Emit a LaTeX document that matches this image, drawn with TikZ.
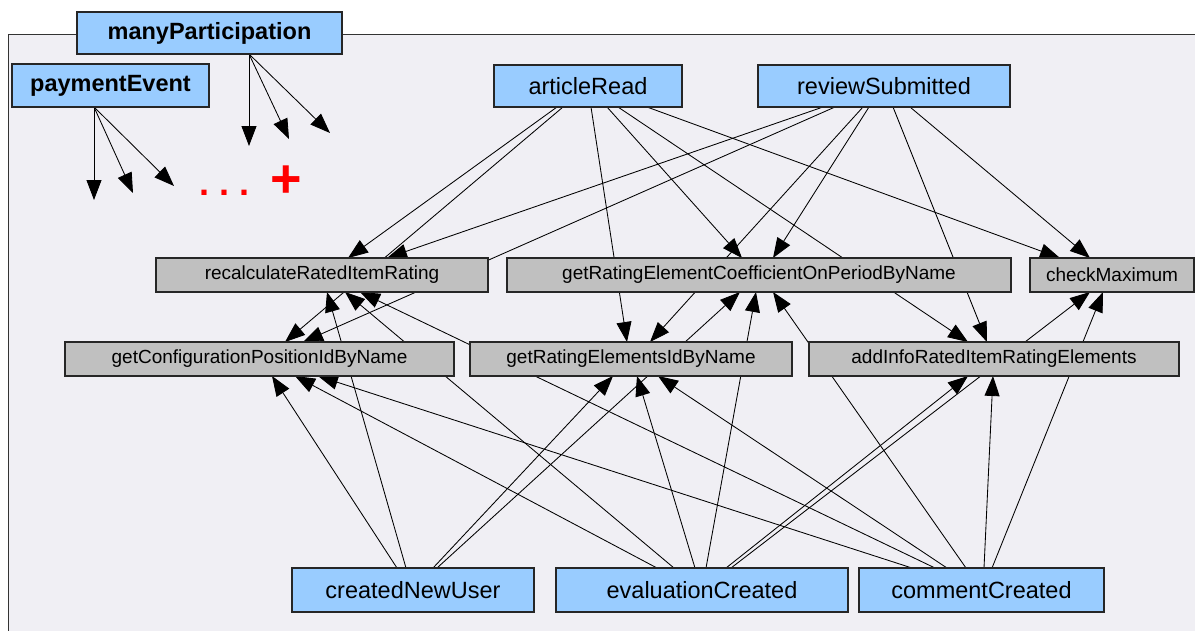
\documentclass[tikz,border=0pt]{standalone}
\usepackage{fontspec}
\setmainfont{Liberation Sans}
\usetikzlibrary{arrows.meta}
\definecolor{evblue}{RGB}{153,204,255}
\definecolor{fngray}{RGB}{192,192,192}
\definecolor{panelbg}{RGB}{240,239,244}
\pgfdeclarelayer{bg}
\pgfdeclarelayer{edges}
\pgfsetlayers{bg,edges,main}
\begin{document}
\begin{tikzpicture}[x=1pt,y=-1pt,
  event/.style={draw=black!85,line width=1.3pt,fill=evblue,inner sep=0pt,outer sep=0pt,
    font=\fontsize{23.5}{26}\selectfont},
  fn/.style={draw=black!85,line width=1.3pt,fill=fngray,inner sep=0pt,outer sep=0pt,
    minimum height=34pt,font=\fontsize{19}{22}\selectfont},
  link/.style={line width=0.85pt,-{Triangle[length=20pt,width=15pt]}},
  redmark/.style={text=red,inner sep=0pt,anchor=base}]
\useasboundingbox (0,0) rectangle (1195,630);

% grey panel that holds the whole call graph
\begin{pgfonlayer}{bg}
  \fill[panelbg] (8,34) rectangle (1215,645);
  \draw[line width=1pt,black!80] (1215,34) -- (8,34) -- (8,645);
\end{pgfonlayer}

% events (blue) and called functions (grey)
\node[event,font=\fontsize{23.5}{26}\selectfont\bfseries,minimum width=265pt,minimum height=42pt] (manyP) at (209.5,33) {manyParticipation};
\node[event,font=\fontsize{23.5}{26}\selectfont\bfseries,minimum width=197pt,minimum height=43pt] (payment) at (110.5,85.5) {paymentEvent};
\node[event,minimum width=188pt,minimum height=42pt] (articleRead) at (588,86) {articleRead};
\node[event,minimum width=252pt,minimum height=42pt] (reviewSubmitted) at (884,86) {reviewSubmitted};

\node[fn,minimum width=332pt] (recalc) at (322,275) {recalculateRatedItemRating};
\node[fn,minimum width=504pt] (coeff) at (759,275) {getRatingElementCoefficientOnPeriodByName};
\node[fn,minimum width=164pt] (checkMax) at (1112,275) {checkMaximum};
\node[fn,minimum width=389pt] (getConfig) at (259.5,359) {getConfigurationPositionIdByName};
\node[fn,minimum width=322pt] (getElems) at (631,359) {getRatingElementsIdByName};
\node[fn,minimum width=370pt] (addInfo) at (994,359) {addInfoRatedItemRatingElements};

\node[event,minimum width=242pt,minimum height=44pt] (createdNewUser) at (413,590) {createdNewUser};
\node[event,minimum width=292pt,minimum height=44pt] (evaluationCreated) at (702,590) {evaluationCreated};
\node[event,minimum width=245pt,minimum height=44pt] (commentCreated) at (981.5,590) {commentCreated};

% open-ended calls of the generic events
\coordinate (p1) at (94,200);
\coordinate (p2) at (133,193);
\coordinate (p3) at (174,186);
\coordinate (m1) at (249,146);
\coordinate (m2) at (289,139);
\coordinate (m3) at (330,133);
\node[redmark,font=\fontsize{36}{36}\selectfont\bfseries] (dots) at (225,195) {.\ .\ .};
\node[redmark,font=\fontsize{54}{54}\selectfont\bfseries] (plus) at (286,197) {+};

\begin{pgfonlayer}{edges}
  \foreach \e in {p1,p2,p3}
    \draw[link] ([xshift=82pt]payment.south west) -- (\e);
  \foreach \e in {m1,m2,m3}
    \draw[link] ([xshift=172pt]manyP.south west) -- (\e);

  % articleRead
  \draw[link] ([xshift=63pt]articleRead.south west) -- ([xshift=192pt]recalc.north west);
  \draw[link] ([xshift=69pt]articleRead.south west) -- ([xshift=220pt]getConfig.north west);
  \draw[link] ([xshift=97pt]articleRead.south west) -- ([xshift=157pt]getElems.north west);
  \draw[link] ([xshift=113pt]articleRead.south west) -- ([xshift=235pt]coeff.north west);
  \draw[link] ([xshift=124pt]articleRead.south west) -- ([xshift=159pt]addInfo.north west);
  \draw[link] ([xshift=153pt]articleRead.south west) -- ([xshift=30pt]checkMax.north west);

  % reviewSubmitted
  \draw[link] ([xshift=65pt]reviewSubmitted.south west) -- ([xshift=231pt]recalc.north west);
  \draw[link] ([xshift=77pt]reviewSubmitted.south west) -- ([xshift=238pt]getConfig.north west);
  \draw[link] ([xshift=105pt]reviewSubmitted.south west) -- ([xshift=180pt]getElems.north west);
  \draw[link] ([xshift=111pt]reviewSubmitted.south west) -- ([xshift=266pt]coeff.north west);
  \draw[link] ([xshift=135pt]reviewSubmitted.south west) -- ([xshift=178pt]addInfo.north west);
  \draw[link] ([xshift=152pt]reviewSubmitted.south west) -- ([xshift=60pt]checkMax.north west);

  % createdNewUser
  \draw[link] ([xshift=105pt]createdNewUser.north west) -- ([xshift=207pt]getConfig.south west);
  \draw[link] ([xshift=114pt]createdNewUser.north west) -- ([xshift=171pt]recalc.south west);
  \draw[link] ([xshift=141pt]createdNewUser.north west) -- ([xshift=143pt]getElems.south west);
  \draw[link] ([xshift=145pt]createdNewUser.north west) -- ([xshift=233pt]coeff.south west);

  % evaluationCreated
  \draw[link] ([xshift=101pt]evaluationCreated.north west) -- ([xshift=230pt]getConfig.south west);
  \draw[link] ([xshift=118pt]evaluationCreated.north west) -- ([xshift=189pt]recalc.south west);
  \draw[link] ([xshift=139pt]evaluationCreated.north west) -- ([xshift=167pt]getElems.south west);
  \draw[link] ([xshift=150pt]evaluationCreated.north west) -- ([xshift=249pt]coeff.south west);
  \draw[link] ([xshift=170pt]evaluationCreated.north west) -- ([xshift=159pt]addInfo.south west);
  \draw[link] ([xshift=175pt]evaluationCreated.north west) -- ([xshift=60pt]checkMax.south west);

  % commentCreated
  \draw[link] ([xshift=53pt]commentCreated.north west) -- ([xshift=253pt]getConfig.south west);
  \draw[link] ([xshift=76pt]commentCreated.north west) -- ([xshift=204pt]recalc.south west);
  \draw[link] ([xshift=88pt]commentCreated.north west) -- ([xshift=188pt]getElems.south west);
  \draw[link] ([xshift=107pt]commentCreated.north west) -- ([xshift=266pt]coeff.south west);
  \draw[link] ([xshift=125pt]commentCreated.north west) -- ([xshift=184pt]addInfo.south west);
  \draw[link] ([xshift=133pt]commentCreated.north west) -- ([xshift=73pt]checkMax.south west);
\end{pgfonlayer}
\end{tikzpicture}
\end{document}
